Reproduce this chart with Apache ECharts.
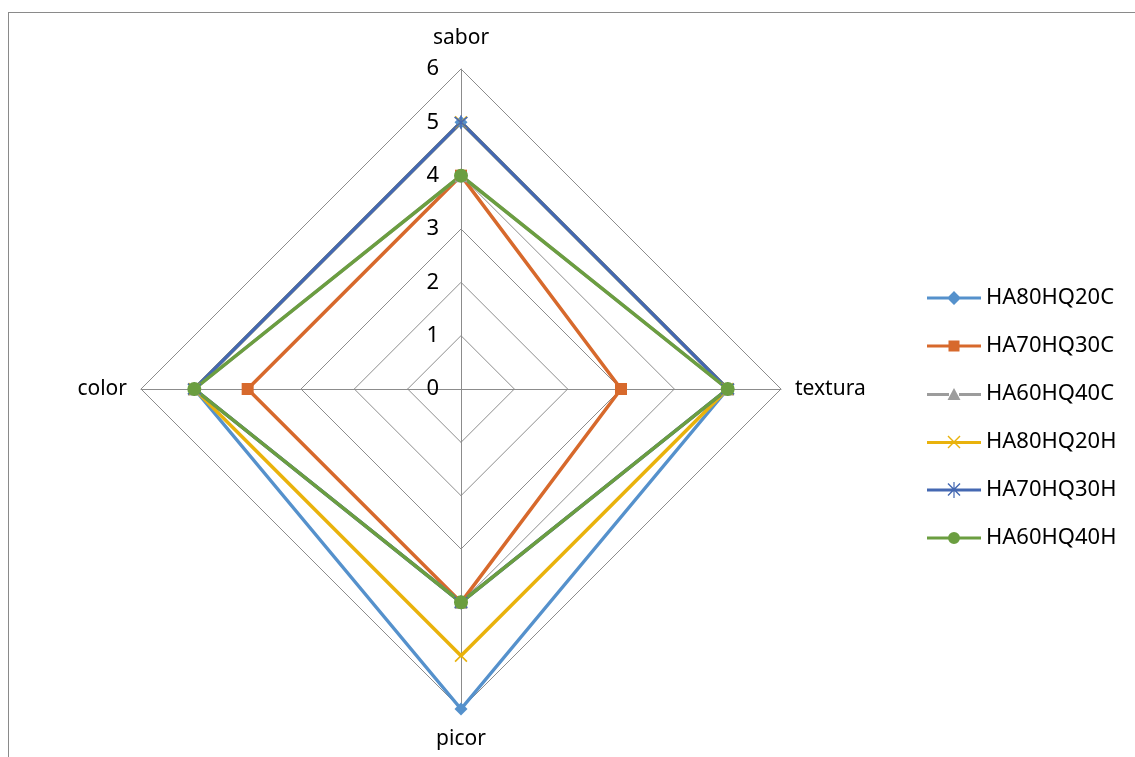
<!DOCTYPE html>
<html>
<head>
<meta charset="utf-8">
<script src="https://cdn.jsdelivr.net/npm/echarts@6/dist/echarts.min.js"></script>
<style>
  html, body { margin: 0; padding: 0; background: #fff; }
  #frame { position: absolute; left: 8px; top: 12px; width: 1140px; height: 760px; border-left: 1px solid #8a8a8a; border-top: 1px solid #8a8a8a; box-sizing: border-box; }
  #chart { position: absolute; left: 0; top: 0; width: 1135px; height: 757px; }
</style>
</head>
<body>
<div id="frame"></div>
<div id="chart"></div>
<script>
// Sensory attributes, in the order the radar lays them out (counter-clockwise from the top)
const attributes = ['sabor', 'color', 'picor', 'textura'];
const scaleMax = 6;

// Scores per formulation, in the order of the attributes above
const seriesNames = ['HA80HQ20C', 'HA70HQ30C', 'HA60HQ40C', 'HA80HQ20H', 'HA70HQ30H', 'HA60HQ40H'];
const HA80HQ20C = [5, 5, 6, 5];
const HA70HQ30C = [4, 4, 4, 3];
const HA60HQ40C = [4, 5, 4, 5];
const HA80HQ20H = [5, 5, 5, 5];
const HA70HQ30H = [5, 5, 4, 5];
const HA60HQ40H = [4, 5, 4, 5];

const seriesValues = [HA80HQ20C, HA70HQ30C, HA60HQ40C, HA80HQ20H, HA70HQ30H, HA60HQ40H];
const colors = ['#5591cc', '#d7692c', '#9c9c9c', '#e9b20c', '#4468b2', '#6b9e40'];

// Marker shapes on the plot
const xMark = 'path://M0,0L1,-1L11,9L10,10ZM0,9L10,-1L11,0L1,10Z';
const starMark = 'path://M0,0L1,-1L11,9L10,10ZM0,9L10,-1L11,0L1,10ZM5,-2L6,-2L6,11L5,11Z';
const symbols = ['diamond', 'rect', 'triangle', xMark, starMark, 'circle'];
const symbolSizes = [13, 12, 13, 13, 14, 14];

// Legend icons: a line with the marker centred on it (54 x 16 box)
const lineBar = 'M0,6.5L54,6.5L54,9.5L0,9.5Z';
const splitBar = 'M0,6.5L22,6.5L22,9.5L0,9.5ZM32,6.5L54,6.5L54,9.5L32,9.5Z';
const legendIcons = [
  'path://' + splitBar + 'M27,1L34,8L27,15L20,8Z',
  'path://' + splitBar + 'M21.5,2.5L32.5,2.5L32.5,13.5L21.5,13.5Z',
  'path://' + splitBar + 'M27,1.5L33.5,13.5L20.5,13.5Z',
  'path://' + lineBar + 'M20.5,2L21.5,1L33.5,13L32.5,14ZM20.5,13L32.5,1L33.5,2L21.5,14Z',
  'path://' + lineBar + 'M20.5,2L21.5,1L33.5,13L32.5,14ZM20.5,13L32.5,1L33.5,2L21.5,14ZM26.4,0L27.6,0L27.6,16L26.4,16Z',
  'path://' + splitBar + 'M21,8A6,6 0 1,1 33,8A6,6 0 1,1 21,8Z'
];

const font = '"Noto Sans", "Open Sans", sans-serif';

const chart = echarts.init(document.getElementById('chart'));

const indicator = attributes.map((name, i) => {
  const ind = { name: name, min: 0, max: scaleMax, nameGap: (i % 2 === 0) ? 20 : 14 };
  if (i === 0) {
    ind.axisLabel = { show: true, color: '#000', fontSize: 22, fontFamily: font, margin: 22 };
  }
  return ind;
});

chart.setOption({
  animation: false,
  color: colors,
  legend: {
    orient: 'vertical',
    left: 922,
    top: 282,
    itemWidth: 54,
    itemHeight: 16,
    itemGap: 26,
    textStyle: { fontSize: 22, fontFamily: font, color: '#000' },
    data: seriesNames.map((name, i) => ({ name: name, icon: legendIcons[i] }))
  },
  radar: {
    center: [461, 389],
    radius: 320,
    startAngle: 90,
    splitNumber: 6,
    shape: 'polygon',
    indicator: indicator,
    axisName: { color: '#000', fontSize: 21, fontFamily: font },
    nameGap: 14,
    axisLine: { lineStyle: { color: '#8c8c8c', width: 1 } },
    splitLine: { lineStyle: { color: '#8c8c8c', width: 1 } },
    splitArea: { show: false },
    axisTick: { show: false },
    axisLabel: { show: false }
  },
  series: [{
    type: 'radar',
    data: seriesNames.map((name, i) => ({
      name: name,
      value: seriesValues[i],
      symbol: symbols[i],
      symbolSize: symbolSizes[i],
      lineStyle: { width: 3.5, color: colors[i] },
      itemStyle: { color: colors[i] }
    }))
  }]
});
</script>
</body>
</html>
